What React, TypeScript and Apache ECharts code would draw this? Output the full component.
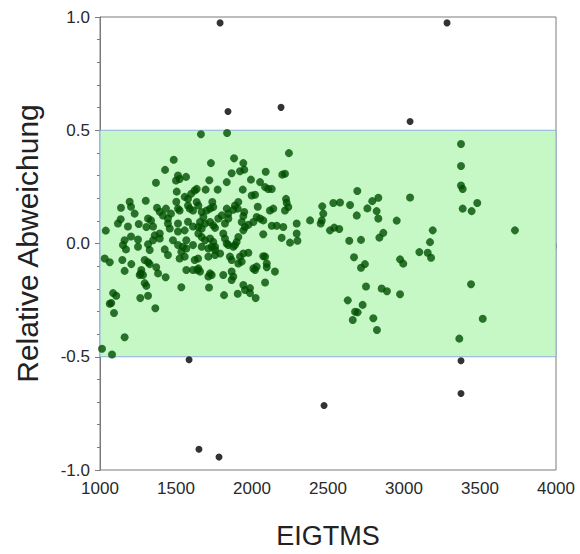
import React, { useEffect, useRef } from "react";
import * as echarts from "echarts";

// Points inside the ±0.5 band: [EIGTMS, relative deviation]
const bandPoints: [number, number][] = [
  [1485, 0.37], [1428, 0.325], [1513, 0.3], [1524, 0.285], [1500, 0.278], [1566, 0.294], [1368, 0.268],
  [1505, 0.229], [1557, 0.206], [1579, 0.197], [1623, 0.234], [1599, 0.219], [1301, 0.189], [1195, 0.184],
  [1204, 0.162], [1138, 0.158], [1228, 0.132], [1375, 0.158], [1393, 0.14], [1414, 0.124], [1434, 0.154],
  [1447, 0.11], [1467, 0.132], [1513, 0.154], [1524, 0.146], [1502, 0.184], [1579, 0.168], [1590, 0.154],
  [1612, 0.146], [1136, 0.107], [1118, 0.088], [1316, 0.11], [1336, 0.102], [1305, 0.073], [1255, 0.086],
  [1184, 0.075], [1513, 0.088], [1579, 0.096], [1612, 0.075], [1038, 0.057], [1349, 0.075], [1360, 0.036],
  [1393, 0.044], [1447, 0.088], [1459, 0.066], [1513, 0.053], [1557, 0.058], [1204, 0.031], [1162, 0.014],
  [1250, 0.018], [1316, -0.003], [1349, 0.014], [1393, 0.022], [1480, 0.014], [1513, -0.007], [1568, 0.014],
  [1612, -0.007], [1250, -0.014], [1151, -0.007],
  [2243, 0.399], [1882, 0.376], [1943, 0.355], [1730, 0.355], [1866, 0.31], [1921, 0.319], [1949, 0.326],
  [2090, 0.317], [2199, 0.304], [2217, 0.308], [1719, 0.279], [1834, 0.271], [1993, 0.282], [2053, 0.271],
  [2086, 0.249], [2107, 0.241], [2130, 0.241], [1636, 0.241], [1695, 0.238], [1774, 0.238], [1939, 0.238],
  [1998, 0.212], [2020, 0.215], [2224, 0.197], [2228, 0.18], [2239, 0.161], [2217, 0.146], [1636, 0.183],
  [1647, 0.168], [1739, 0.183], [1745, 0.161], [1724, 0.154], [1702, 0.146], [1910, 0.183], [1888, 0.168],
  [1877, 0.149], [1906, 0.154], [2038, 0.162], [2140, 0.154], [2118, 0.146], [1834, 0.154], [1844, 0.132],
  [1801, 0.124], [1778, 0.11], [1949, 0.139], [1943, 0.121], [1932, 0.095], [2031, 0.117], [2053, 0.11],
  [2074, 0.102], [2009, 0.095], [1669, 0.139], [1680, 0.117], [1658, 0.095], [1691, 0.088], [1647, 0.073],
  [1669, 0.066], [1724, 0.095], [1745, 0.08], [1757, 0.069], [1844, 0.11], [1822, 0.088], [1976, 0.083],
  [1954, 0.073], [1943, 0.058], [2130, 0.078], [2163, 0.078], [2206, 0.073], [2294, 0.088], [2294, 0.044],
  [1647, 0.044], [1669, 0.029], [1691, 0.014], [1811, 0.044], [1822, 0.022], [1834, 0.0], [1910, 0.029],
  [1899, 0.007], [2074, 0.041], [2195, 0.025], [2250, 0.004], [2299, 0.012], [1724, 0.022], [1745, 0.007],
  [1757, -0.014], [1735, -0.014], [1844, -0.007], [1888, -0.007],
  [1171, -0.026], [1327, -0.029], [1426, -0.026], [1447, -0.051], [1546, -0.014], [1568, -0.022],
  [1535, -0.036], [1524, -0.066], [1557, -0.058], [1623, -0.073], [1645, -0.066], [1031, -0.066],
  [1064, -0.083], [1147, -0.073], [1162, -0.121], [1206, -0.091], [1294, -0.073], [1316, -0.083],
  [1327, -0.091], [1272, -0.117], [1268, -0.132], [1283, -0.139], [1261, -0.139], [1370, -0.105],
  [1382, -0.132], [1432, -0.149], [1568, -0.117], [1612, -0.117], [1640, -0.117], [1294, -0.175],
  [1305, -0.187], [1535, -0.193], [1086, -0.219], [1107, -0.231], [1265, -0.241], [1316, -0.231],
  [1074, -0.263], [1064, -0.266], [1364, -0.286], [1092, -0.307], [1162, -0.414], [1013, -0.465],
  [1079, -0.49],
  [1669, -0.014], [1713, -0.022], [1757, -0.029], [1790, -0.044], [1757, -0.051], [1713, -0.058],
  [1877, -0.014], [1855, -0.058], [1866, -0.073], [1921, -0.058], [1943, -0.044], [1976, -0.041],
  [1932, -0.08], [1910, -0.088], [2074, -0.056], [2086, -0.058], [1647, -0.11], [1658, -0.124],
  [1724, -0.132], [1713, -0.146], [1735, -0.139], [1811, -0.139], [1866, -0.124], [1877, -0.146],
  [1866, -0.161], [2009, -0.11], [2031, -0.102], [2020, -0.117], [2097, -0.088], [2097, -0.105],
  [2151, -0.124], [2086, -0.172], [1717, -0.194], [1816, -0.228], [1906, -0.222], [1943, -0.183],
  [1954, -0.205], [1987, -0.197], [1987, -0.219], [2024, -0.241],
  [1664, 0.482], [1836, 0.488],
  [3375, 0.439], [3375, 0.342], [3375, 0.256], [3386, 0.241], [3482, 0.179], [3445, 0.143], [3386, 0.154],
  [3730, 0.058], [2693, 0.232], [2535, 0.179], [2579, 0.181], [2462, 0.164], [2469, 0.132], [2459, 0.102],
  [2452, 0.088], [2645, 0.17], [2791, 0.187], [2831, 0.202], [2759, 0.155], [2820, 0.143], [2831, 0.11],
  [2689, 0.124], [3040, 0.203], [2952, 0.101], [2382, 0.102], [2513, 0.058], [2541, 0.07], [2574, 0.064],
  [3189, 0.058], [3171, 0.006], [3156, -0.041], [3178, -0.063], [3101, -0.038], [2640, 0.012],
  [2717, 0.016], [2864, 0.047], [2838, 0.026], [2671, -0.061], [2743, -0.091], [2717, -0.107],
  [2974, -0.07], [2995, -0.089], [2750, -0.19], [2853, -0.199], [2888, -0.211], [2974, -0.224],
  [2630, -0.251], [2728, -0.271], [2678, -0.301], [2695, -0.304], [2663, -0.338], [2798, -0.33],
  [2822, -0.382], [3441, -0.18], [3518, -0.332], [3364, -0.42],
];

// Points outside the band
const outliers: [number, number][] = [
  [1790, 0.974], [3283, 0.974], [1842, 0.583], [2191, 0.601], [3040, 0.539],
  [1586, -0.513], [2474, -0.715], [1651, -0.908], [1783, -0.943], [3375, -0.518], [3375, -0.662],
];

const bandLimits = [-0.5, 0.5];
const xRange = [1000, 4000];
const yRange = [-1, 1];

const FONT = "'Liberation Sans', Arial, sans-serif";

export default function App() {
  const ref = useRef<HTMLDivElement>(null);
  useEffect(() => {
    if (!ref.current) return;
    const chart = echarts.init(ref.current, undefined, { renderer: "svg" });
    const axisLine = { show: true, lineStyle: { color: "#7a7a7a", width: 1 } };
    chart.setOption({
      animation: false,
      backgroundColor: "#ffffff",
      grid: {
        left: 100,
        right: 24,
        top: 17,
        bottom: 81,
        show: true,
        borderColor: "#7a7a7a",
        borderWidth: 1,
      },
      xAxis: {
        type: "value",
        min: xRange[0],
        max: xRange[1],
        interval: 500,
        name: "EIGTMS",
        nameLocation: "middle",
        nameGap: 52,
        nameTextStyle: { fontFamily: FONT, fontSize: 27, color: "#222" },
        axisLine,
        axisTick: { show: true, length: 5, lineStyle: { color: "#7a7a7a" } },
        minorTick: { show: true, splitNumber: 5, length: 3, lineStyle: { color: "#7a7a7a" } },
        splitLine: { show: false },
        axisLabel: {
          fontFamily: FONT,
          fontSize: 17,
          color: "#2a2a2a",
          margin: 10,
          formatter: (v: number) => String(v),
        },
      },
      yAxis: {
        type: "value",
        min: yRange[0],
        max: yRange[1],
        interval: 0.5,
        name: "Relative Abweichung",
        nameLocation: "middle",
        nameGap: 58,
        nameTextStyle: { fontFamily: FONT, fontSize: 30, color: "#222" },
        axisLine,
        axisTick: { show: true, length: 5, lineStyle: { color: "#7a7a7a" } },
        minorTick: { show: true, splitNumber: 5, length: 3, lineStyle: { color: "#7a7a7a" } },
        splitLine: { show: false },
        axisLabel: {
          fontFamily: FONT,
          fontSize: 17,
          color: "#2a2a2a",
          margin: 10,
          formatter: (v: number) => v.toFixed(1),
        },
      },
      series: [
        {
          type: "scatter",
          name: "band",
          data: bandPoints,
          symbol: "circle",
          symbolSize: 8,
          itemStyle: { color: "#004f00" },
          z: 3,
          markArea: {
            silent: true,
            itemStyle: { color: "#c6f8c6", borderColor: "#8eaee0", borderWidth: 1 },
            data: [[{ yAxis: bandLimits[0] }, { yAxis: bandLimits[1] }]],
          },
        },
        {
          type: "scatter",
          name: "outliers",
          data: outliers,
          symbol: "circle",
          symbolSize: 7,
          itemStyle: { color: "#000000" },
          z: 3,
        },
      ],
    });
    return () => chart.dispose();
  }, []);
  return (
    <div
      ref={ref}
      style={{ position: "fixed", left: 0, top: 0, width: 580, height: 554 }}
    />
  );
}
